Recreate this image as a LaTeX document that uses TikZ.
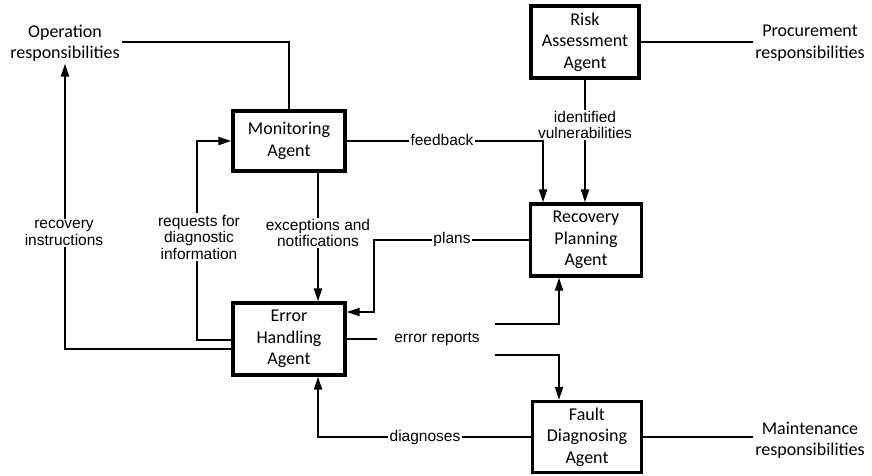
\documentclass[tikz,border=0pt]{standalone}
\usepackage{fontspec}
\setmainfont{Liberation Sans}
\newfontfamily\agentfont{Carlito}
\usetikzlibrary{arrows.meta}

\begin{document}
\begin{tikzpicture}[x=1pt,y=-1pt,
  agent/.style={draw, line width=3.2pt, align=center, inner sep=0pt,
    font=\agentfont\fontsize{18}{21.5}\selectfont},
  resp/.style={align=center, inner sep=2pt,
    font=\agentfont\fontsize{18}{21.5}\selectfont},
  lbl/.style={align=center, inner sep=1.5pt, fill=white,
    font=\fontsize{15.5}{16.5}\selectfont},
  link/.style={line width=2pt},
  arr/.style={link, -{Triangle[length=13pt,width=8pt]}}]
\useasboundingbox (0,0) rectangle (872,475);

% agents
\node[agent, minimum width=112pt, minimum height=60pt] (mon) at (289,141) {Monitoring\\Agent};
\node[agent, minimum width=112pt, minimum height=72pt] (err) at (289,339) {Error\\Handling\\Agent};
\node[agent, minimum width=108pt, minimum height=72pt] (risk) at (585,42) {Risk\\Assessment\\Agent};
\node[agent, minimum width=111pt, minimum height=72pt] (rec) at (586,240) {Recovery\\Planning\\Agent};
\node[agent, minimum width=109pt, minimum height=71pt] (fault) at (587,437) {Fault\\Diagnosing\\Agent};

% responsibilities
\node[resp] (op) at (65,43) {Operation\\responsibilities};
\node[resp] (proc) at (810,43) {Procurement\\responsibilities};
\node[resp] (maint) at (810,440) {Maintenance\\responsibilities};

% connectors
\draw[link] (op.east |- 0,42) -| (mon.north);
\draw[arr] ([yshift=-10pt]err.west) -| (op.south);
\draw[arr] ([yshift=-1pt]err.west) -- ++(-34,0) |- (mon.west);
\draw[arr] ([xshift=29pt]mon.south) -- ([xshift=29pt]err.north);
\draw[arr] (mon.east) -| ([xshift=-43pt]rec.north);
\draw[arr] (risk.south) -- (risk.south |- rec.north);
\draw[arr] (rec.west) -- ++(-155,0) |- ([yshift=27pt]err.east);
\draw[arr] (fault.west) -| ([xshift=29pt]err.south);
\draw[link] (risk.east) -- (risk.east -| proc.west);
\draw[link] (fault.east) -- (fault.east -| maint.west);

% error reports fork
\node[lbl, fill=none] (er) at (437,339) {error reports};
\draw[link] (err.east) -- ++(30,0);
\coordinate (erA) at (495,324);
\coordinate (erB) at (495,355);
\draw[arr] (erA) -| ([xshift=-27pt]rec.south);
\draw[arr] (erB) -| ([xshift=-28pt]fault.north);

% connector labels
\node[lbl] at (442,140) {feedback};
\node[lbl] at (585,125) {identified\\vulnerabilities};
\node[lbl] at (318,233) {exceptions and\\notifications};
\node[lbl] at (199,237) {requests for\\diagnostic\\information};
\node[lbl] at (64,233) {recovery\\instructions};
\node[lbl] at (452,239) {plans};
\node[lbl] at (425,437) {diagnoses};
\end{tikzpicture}
\end{document}
